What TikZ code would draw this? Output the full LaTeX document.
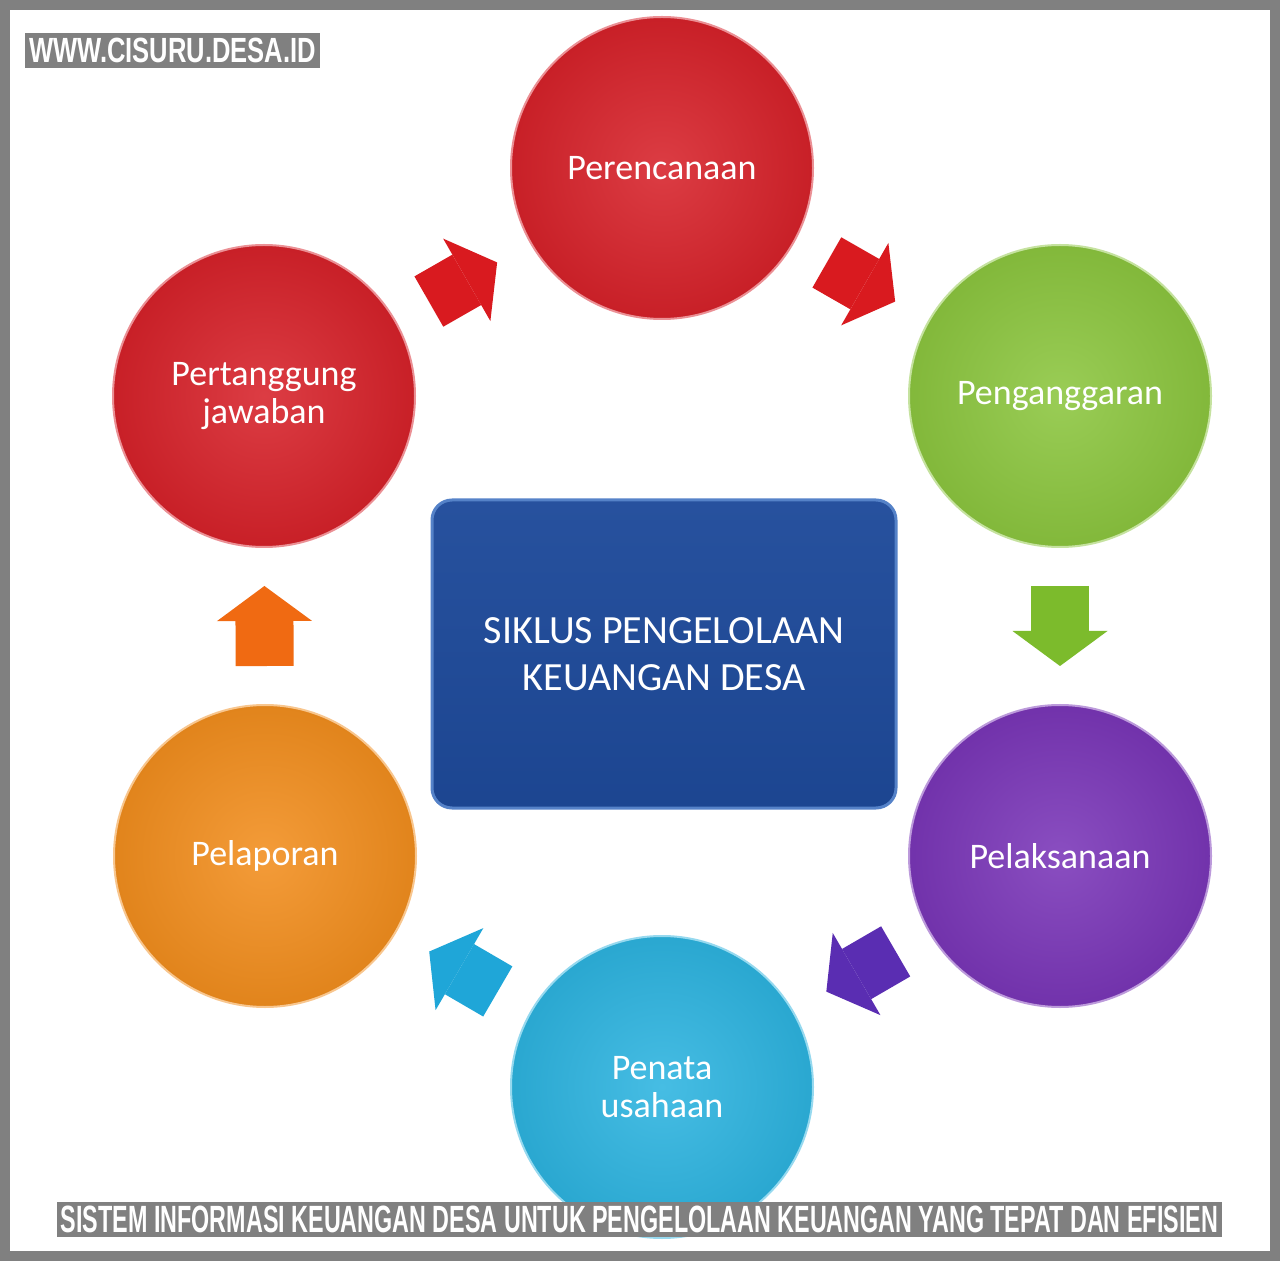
\documentclass[tikz,border=0pt]{standalone}
\usepackage{fontspec}
\setmainfont{Carlito}
\newfontfamily\webfont{Liberation Sans}[FakeStretch=0.73]
\newfontfamily\capfont{Liberation Sans}[FakeStretch=0.614]
\usetikzlibrary{arrows.meta,calc}
\definecolor{skFrame}{HTML}{808080}
\definecolor{skRed}{HTML}{D7222A}
\definecolor{skRedAr}{HTML}{D91A1F}
\definecolor{skGreen}{HTML}{8CC63F}
\definecolor{skGreenAr}{HTML}{7CBB2C}
\definecolor{skPurple}{HTML}{7A36B8}
\definecolor{skPurpleAr}{HTML}{5A2DB2}
\definecolor{skCyan}{HTML}{2DB4E0}
\definecolor{skCyanAr}{HTML}{1FA6D8}
\definecolor{skOrange}{HTML}{F28E1E}
\definecolor{skOrangeAr}{HTML}{F06A12}
\definecolor{skBlue}{HTML}{1E4A9A}
\definecolor{skBlueEdge}{HTML}{5582C8}

\begin{document}
\begin{tikzpicture}[
  x=0.5pt, y=-0.5pt,
  bubble/.style={
    circle,
    minimum size=151pt,
    inner sep=0pt,
    align=center,
    text=white,
    font=\fontsize{18}{19}\selectfont,
    draw=#1!50!white,
    line width=1pt,
    inner color=#1!88!white,
    outer color=#1!93!black
  },
  flow/.style={
    draw=#1,
    line width=29pt,
    -{Triangle[width=47.5pt, length=17.5pt, line width=0pt]},
    shorten <=19pt, shorten >=19pt
  },
  core/.style={
    rounded corners=10pt,
    minimum width=232pt,
    minimum height=154pt,
    top color=skBlue!96!white,
    bottom color=skBlue!94!black,
    draw=skBlueEdge,
    line width=1.5pt,
    align=center,
    text=white,
    font=\fontsize{20}{23.5}\selectfont
  },
  tag/.style={fill=skFrame, text=white, inner sep=0pt, minimum height=17.5pt}
]
  \useasboundingbox (0,0) rectangle (1280,1261);
  \fill[skFrame] (0,0) rectangle (1280,1261);
  \fill[white] (10,10) rectangle (1270,1251);

  % stages of the cycle
  \node[bubble=skRed] (plan) at (662,168) {Perencanaan};
  \node[bubble=skGreen] (budget) at (1060,396) {Penganggaran};
  \node[bubble=skPurple] (exec) at (1060,856) {Pelaksanaan};
  \node[bubble=skCyan] (admin) at (662,1087) {Penata\\usahaan};
  \node[bubble=skOrange] (report) at (265,856) {Pelaporan};
  \node[bubble=skRed] (account) at (264,396) {Pertanggung\\jawaban};

  \node[core] (cycle) at (664,654) {SIKLUS PENGELOLAAN\\KEUANGAN DESA};

  % block arrows between the stages
  \draw[flow=skRedAr] (account) -- (plan);
  \draw[flow=skRedAr] (plan) -- (budget);
  \draw[flow=skGreenAr] (budget) -- (exec);
  \draw[flow=skPurpleAr] (exec) -- (admin);
  \draw[flow=skCyanAr] (admin) -- (report);
  \draw[flow=skOrangeAr] (report) -- (account);

  \node[tag, minimum width=147.5pt, font=\webfont\bfseries\fontsize{17.5}{18}\selectfont]
    (site) at (172.5,50.5) {WWW.CISURU.DESA.ID};
  \node[tag, minimum width=582.5pt, font=\capfont\bfseries\fontsize{19}{20}\selectfont]
    (caption) at (639.5,1219.5) {SISTEM INFORMASI KEUANGAN DESA UNTUK PENGELOLAAN KEUANGAN YANG TEPAT DAN EFISIEN};
\end{tikzpicture}
\end{document}
